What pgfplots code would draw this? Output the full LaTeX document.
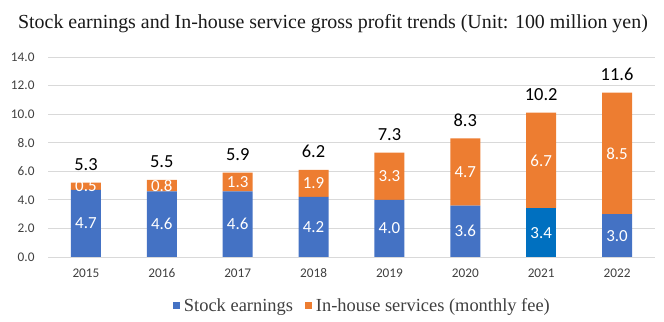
\documentclass[border=0pt]{standalone}
\usepackage{fontspec}
\setmainfont{Liberation Serif}
\newfontfamily\carlito{Carlito}
\usepackage{pgfplots}
\pgfplotsset{compat=1.18}
\definecolor{cblue}{HTML}{4472C4}
\definecolor{cdblue}{HTML}{0070C0}
\definecolor{corange}{HTML}{ED7D31}
\definecolor{cgrid}{HTML}{D9D9D9}
\definecolor{ctext}{HTML}{404040}
\pgfplotsset{
  inlab/.style={every node near coord/.style={font=\carlito\fontsize{17}{19}\selectfont, text=white, anchor=center}},
}
\begin{document}
\begin{tikzpicture}
\path[use as bounding box] (0,0) rectangle (664bp,322bp);
\begin{axis}[
  at={(48bp,65bp)}, anchor=south west,
  scale only axis, width=607bp, height=200bp,
  ybar stacked, bar width=30bp,
  xmin=-0.5, xmax=7.5, ymin=0, ymax=14,
  xtick={0,...,7}, xticklabels={2015,2016,2017,2018,2019,2020,2021,2022},
  ytick={0,2,...,14},
  tick label style={font=\carlito\fontsize{13.3}{15}\selectfont, text=ctext},
  yticklabel style={xshift=-10bp, /pgf/number format/.cd,fixed,fixed zerofill,precision=1},
  /pgf/number format/assume math mode=true,
  xticklabel style={yshift=-8bp},
  axis line style={draw=none},
  major tick length=0pt,
  ymajorgrids, grid style={cgrid, line width=0.8pt},
  title={Stock earnings and In-house service gross profit trends (Unit: 100 million yen)},
  title style={at={(axis description cs:0.4695,1.115)}, anchor=base, font=\fontsize{20}{22}\selectfont, text=black!90},
  legend style={at={(axis description cs:0.518,-0.245)}, anchor=center, draw=none,
    legend columns=2, font=\fontsize{18.5}{20}\selectfont, text=ctext,
    /tikz/every odd column/.append style={column sep=2bp},
    /tikz/every even column/.append style={column sep=10bp}},
  legend image code/.code={\fill[#1] (0bp,-3.5bp) rectangle (7bp,3.5bp);},
  point meta=explicit symbolic,
  nodes near coords,
]
\addplot[fill=cblue, draw=none, inlab] coordinates {
 (0,4.7)[4.7] (1,4.6)[4.6] (2,4.6)[4.6] (3,4.2)[4.2] (4,4.0)[4.0] (5,3.6)[3.6] (6,0)[] (7,3.0)[3.0]};
\addlegendentry{Stock earnings}
\addplot[fill=cdblue, draw=none, forget plot, inlab] coordinates {
 (0,0)[] (1,0)[] (2,0)[] (3,0)[] (4,0)[] (5,0)[] (6,3.4)[3.4] (7,0)[]};
\addplot[fill=corange, draw=none, inlab] coordinates {
 (0,0.5)[0.5] (1,0.8)[0.8] (2,1.3)[1.3] (3,1.9)[1.9] (4,3.3)[3.3] (5,4.7)[4.7] (6,6.7)[6.7] (7,8.5)[8.5]};
\addlegendentry{In-house services (monthly fee)}
\end{axis}
\begin{axis}[
  at={(48bp,65bp)}, anchor=south west,
  scale only axis, width=607bp, height=200bp,
  xmin=-0.5, xmax=7.5, ymin=0, ymax=14,
  hide axis,
  point meta=explicit symbolic,
  nodes near coords,
  every node near coord/.style={font=\carlito\fontsize{18.5}{20}\selectfont, text=black, anchor=south, yshift=8.5bp},
]
\addplot[only marks, mark=none, draw=none] coordinates {
 (0,5.2)[5.3] (1,5.4)[5.5] (2,5.9)[5.9] (3,6.1)[6.2] (4,7.3)[7.3] (5,8.3)[8.3] (6,10.1)[10.2] (7,11.5)[11.6]};
\end{axis}
\end{tikzpicture}
\end{document}
